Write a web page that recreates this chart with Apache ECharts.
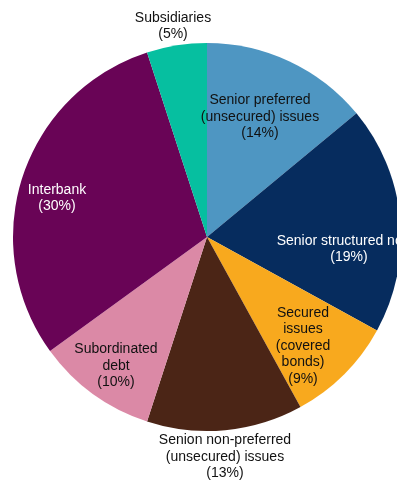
<!DOCTYPE html>
<html>
<head>
<meta charset="utf-8">
<script src="https://cdn.jsdelivr.net/npm/echarts@6/dist/echarts.min.js"></script>
<style>
html,body{margin:0;padding:0;background:#fff;}
#chart{width:397px;height:483px;}
</style>
</head>
<body>
<div id="chart"></div>
<script>
const categories = [
  'Senior preferred\n(unsecured) issues',
  'Senior structured notes',
  'Secured\nissues\n(covered\nbonds)',
  'Senion non-preferred\n(unsecured) issues',
  'Subordinated\ndebt',
  'Interbank',
  'Subsidiaries'
];
const values = [14, 19, 9, 13, 10, 30, 5];
const colors = ['#4E96C2', '#062C5E', '#F8A91E', '#4B2516', '#DB89A6', '#690456', '#06BFA0'];
const labelColors = ['#111', '#fff', '#111', '#111', '#111', '#fff', '#111'];
const labelPos = [[260, 117], [349, 249], [303, 346], [225, 457], [116, 366], [57, 198], [173, 26]];

const chart = echarts.init(document.getElementById('chart'), null, {renderer: 'canvas'});
chart.setOption({
  animation: false,
  backgroundColor: '#fff',
  series: [{
    type: 'pie',
    silent: true,
    center: [207, 237],
    radius: [0, 194],
    startAngle: 90,
    clockwise: true,
    avoidLabelOverlap: false,
    label: {
      show: true,
      position: 'inside',
      fontFamily: '"Liberation Sans", Arial, sans-serif',
      fontSize: 14,
      lineHeight: 16.5,
      align: 'center',
      formatter: p => p.name + '\n(' + p.value + '%)'
    },
    labelLine: {show: false},
    labelLayout: p => ({
      x: labelPos[p.dataIndex][0],
      y: labelPos[p.dataIndex][1],
      align: 'center',
      verticalAlign: 'middle'
    }),
    itemStyle: {borderWidth: 0},
    data: categories.map((c, i) => ({
      name: c,
      value: values[i],
      itemStyle: {color: colors[i]},
      label: {color: labelColors[i]}
    }))
  }]
});
</script>
</body>
</html>
